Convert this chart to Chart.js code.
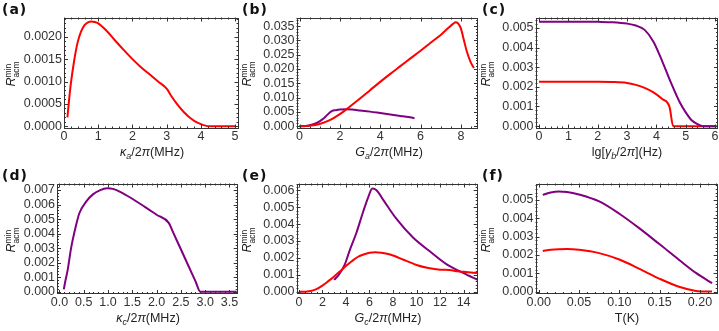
<!DOCTYPE html>
<html>
<head>
<meta charset="utf-8">
<script src="https://cdn.jsdelivr.net/npm/chart.js@4.4.1/dist/chart.umd.min.js"></script>
<style>
  html, body { margin: 0; padding: 0; background: #fff; }
  #wrap { position: relative; width: 719px; height: 331px; overflow: hidden;
          font-family: 'Liberation Sans', Arial, sans-serif; color: #222; }
  #wrap canvas { position: absolute; }
  .tag { position: absolute; font: bold 14px 'DejaVu Sans', sans-serif; letter-spacing: 1px; color: #111; }
  .xt { position: absolute; font-size: 12.5px; white-space: nowrap; transform: translate(-50%, -50%); }
  .yt { position: absolute; font-size: 12.5px; white-space: nowrap; transform: translate(-50%, -50%) rotate(-90deg); }
  .ss { display: inline-block; vertical-align: middle; font-size: 8.5px; line-height: 8px; }
  .ss span { display: block; }
  sub { font-size: 9px; vertical-align: -3px; line-height: 0; }
</style>
</head>
<body>
<div id="wrap">
  <canvas id="ca"></canvas><canvas id="cb"></canvas><canvas id="cc"></canvas>
  <canvas id="cd"></canvas><canvas id="ce"></canvas><canvas id="cf"></canvas>

  <div class="tag" style="left:2px;top:1px">(a)</div>
  <div class="tag" style="left:242px;top:1px">(b)</div>
  <div class="tag" style="left:482px;top:1px">(c)</div>
  <div class="tag" style="left:2px;top:167px">(d)</div>
  <div class="tag" style="left:242px;top:167px">(e)</div>
  <div class="tag" style="left:482px;top:167px">(f)</div>

  <div class="yt" style="left:12px;top:74px"><i>R</i><span class="ss"><span>min</span><span>acm</span></span></div>
  <div class="yt" style="left:248px;top:74px"><i>R</i><span class="ss"><span>min</span><span>acm</span></span></div>
  <div class="yt" style="left:487px;top:74px"><i>R</i><span class="ss"><span>min</span><span>acm</span></span></div>
  <div class="yt" style="left:12px;top:240px"><i>R</i><span class="ss"><span>min</span><span>acm</span></span></div>
  <div class="yt" style="left:248px;top:240px"><i>R</i><span class="ss"><span>min</span><span>acm</span></span></div>
  <div class="yt" style="left:487px;top:240px"><i>R</i><span class="ss"><span>min</span><span>acm</span></span></div>

  <div class="xt" style="left:152px;top:152px"><i>κ</i><sub><i>a</i></sub>/2<i>π</i>(MHz)</div>
  <div class="xt" style="left:389px;top:152px"><i>G</i><sub><i>a</i></sub>/2<i>π</i>(MHz)</div>
  <div class="xt" style="left:627px;top:152px">lg[<i>γ</i><sub><i>b</i></sub>/2<i>π</i>](Hz)</div>
  <div class="xt" style="left:148px;top:318px"><i>κ</i><sub><i>c</i></sub>/2<i>π</i>(MHz)</div>
  <div class="xt" style="left:388px;top:318px"><i>G</i><sub><i>c</i></sub>/2<i>π</i>(MHz)</div>
  <div class="xt" style="left:627px;top:318px">T(K)</div>
</div>

<script>
// ---- data ----
// (a) R vs kappa_a
const aX   = [0.1, 0.15, 0.2, 0.3, 0.4, 0.5, 0.6, 0.7, 0.8, 0.9, 1.0, 1.25, 1.5, 1.75, 2.0, 2.25, 2.5, 2.75, 3.0, 3.15, 3.3, 3.5, 3.7, 3.9, 4.1, 4.3, 4.6, 5.0];
const aRed = [0.0002, 0.0006, 0.00095, 0.00148, 0.00188, 0.00212, 0.00226, 0.00232, 0.00234, 0.00233, 0.0023, 0.00213, 0.00191, 0.0017, 0.0015, 0.00132, 0.00116, 0.001, 0.00084, 0.00066, 0.0005, 0.00032, 0.00018, 0.00008, 0.00002, 0, 0, 0];

// (b) R vs G_a
const bRedX = [0, 0.5, 1, 1.5, 2, 2.5, 3, 3.5, 4, 4.5, 5, 5.5, 6, 6.5, 7, 7.2, 7.4, 7.6, 7.75, 7.9, 8.0, 8.15, 8.3, 8.48, 8.65];
const bRed  = [0, 0.0002, 0.0008, 0.0021, 0.0042, 0.0069, 0.0097, 0.0126, 0.0155, 0.0183, 0.021, 0.0237, 0.0264, 0.0292, 0.0319, 0.0332, 0.0345, 0.0357, 0.0363, 0.0356, 0.0342, 0.0301, 0.026, 0.0225, 0.0203];
const bPurX = [0, 0.3, 0.6, 0.9, 1.1, 1.3, 1.5, 1.6, 1.8, 2.0, 2.3, 2.6, 3.0, 3.5, 4.0, 4.5, 5.0, 5.4, 5.7];
const bPur  = [0, 0.0001, 0.0005, 0.0013, 0.0022, 0.0034, 0.0048, 0.0053, 0.0056, 0.0058, 0.0059, 0.0058, 0.0055, 0.0051, 0.0046, 0.0041, 0.0036, 0.0032, 0.0028];

// (c) R vs lg(gamma_b)
const cPurX = [0, 0.5, 1, 1.5, 2, 2.5, 3, 3.3, 3.6, 3.9, 4.2, 4.5, 4.8, 5.0, 5.2, 5.4, 5.6, 6.05];
const cPur  = [0.00532, 0.00532, 0.00532, 0.00532, 0.00531, 0.00529, 0.00522, 0.00512, 0.0049, 0.0043, 0.0033, 0.0022, 0.0012, 0.0007, 0.0003, 0.0001, 0, 0];
const cRedX = [0, 0.5, 1, 1.5, 2, 2.5, 3, 3.3, 3.6, 3.9, 4.2, 4.45, 4.57, 5.0, 6.05];
const cRed  = [0.00226, 0.00226, 0.00226, 0.00226, 0.00226, 0.00225, 0.0022, 0.0021, 0.00195, 0.00172, 0.00138, 0.00097, 0, 0, 0];

// (d) R vs kappa_c
const dX   = [0.09, 0.12, 0.17, 0.24, 0.33, 0.41, 0.55, 0.69, 0.83, 0.98, 1.1, 1.25, 1.5, 1.75, 2.0, 2.25, 2.35, 2.5, 2.65, 2.8, 2.9, 3.2, 3.65];
const dPur = [0.00016, 0.0007, 0.0015, 0.003, 0.0044, 0.0054, 0.0062, 0.0067, 0.00698, 0.00712, 0.00708, 0.00688, 0.0064, 0.00586, 0.0053, 0.00474, 0.00401, 0.00292, 0.00182, 0.00073, 0, 0, 0];

// (e) R vs G_c
const eRedX = [0, 0.5, 0.9, 1.5, 2, 2.5, 3, 3.5, 4, 4.5, 5, 5.5, 6, 6.5, 7, 7.5, 8, 8.5, 9, 9.5, 10, 11, 12, 12.8, 13.5, 14, 15.2];
const eRed  = [0, 0, 0.00002, 0.00015, 0.00036, 0.00062, 0.0009, 0.0012, 0.00152, 0.0018, 0.00205, 0.0022, 0.0023, 0.00233, 0.0023, 0.00224, 0.00214, 0.002, 0.00186, 0.00172, 0.00158, 0.0014, 0.0013, 0.00128, 0.0012, 0.00117, 0.0011];
const ePurX = [3.0, 3.4, 3.9, 4.3, 4.9, 5.45, 5.9, 6.25, 6.6, 7.2, 8.3, 9.7, 11.1, 12.6, 14, 15.2];
const ePur  = [0.0007, 0.001, 0.0016, 0.0024, 0.0035, 0.0047, 0.0056, 0.0061, 0.006, 0.0054, 0.0043, 0.0032, 0.0024, 0.0016, 0.0011, 0.0007];

// (f) R vs T
const fX   = [0.005, 0.015, 0.025, 0.035, 0.05, 0.075, 0.1, 0.125, 0.15, 0.175, 0.195, 0.215];
const fPur = [0.00528, 0.00541, 0.00546, 0.00544, 0.0053, 0.00492, 0.00425, 0.00345, 0.00258, 0.0017, 0.00102, 0.00046];
const fRed = [0.00222, 0.00228, 0.00231, 0.00232, 0.00228, 0.0021, 0.00175, 0.00124, 0.0007, 0.00025, 0.00004, 0];

// tick labels
const aXTicks = [0, 1, 2, 3, 4, 5];
const aYTicks = [0, 0.0005, 0.001, 0.0015, 0.002];
const bXTicks = [0, 2, 4, 6, 8];
const bYTicks = [0, 0.005, 0.01, 0.015, 0.02, 0.025, 0.03, 0.035];
const cXTicks = [0, 1, 2, 3, 4, 5, 6];
const cYTicks = [0, 0.001, 0.002, 0.003, 0.004, 0.005];
const dXTicks = [0, 0.5, 1, 1.5, 2, 2.5, 3, 3.5];
const dYTicks = [0, 0.001, 0.002, 0.003, 0.004, 0.005, 0.006, 0.007];
const eXTicks = [0, 2, 4, 6, 8, 10, 12, 14];
const eYTicks = [0, 0.001, 0.002, 0.003, 0.004, 0.005, 0.006];
const fXTicks = [0, 0.05, 0.1, 0.15, 0.2];
const fYTicks = [0, 0.001, 0.002, 0.003, 0.004, 0.005];

const RED = '#ff0000';
const PURPLE = '#800080';

// mathematica style frame with ticks on all four sides
function minorList(t, n, min, max) {
  const step = t[1] - t[0];
  const out = [];
  for (let k = -n; k <= (t.length + 1) * n; k++) {
    const v = t[0] + k * step / n;
    if (v >= min && v <= max) out.push({ v, major: k % n === 0 });
  }
  return out;
}

const frame = {
  id: 'frame',
  afterDatasetsDraw(chart, args, opts) {
    const { ctx, chartArea: a } = chart;
    const sx = chart.scales.x, sy = chart.scales.y;
    ctx.save();
    ctx.strokeStyle = '#333';
    ctx.lineWidth = 1;
    ctx.beginPath();
    minorList(opts.xTicks, opts.xMinor, sx.min, sx.max).forEach(t => {
      const p = Math.round(sx.getPixelForValue(t.v)) + 0.5;
      const len = t.major ? 4 : 2;
      ctx.moveTo(p, a.bottom); ctx.lineTo(p, a.bottom - len);
      ctx.moveTo(p, a.top); ctx.lineTo(p, a.top + len);
    });
    minorList(opts.yTicks, opts.yMinor, sy.min, sy.max).forEach(t => {
      const p = Math.round(sy.getPixelForValue(t.v)) + 0.5;
      const len = t.major ? 4 : 2;
      ctx.moveTo(a.left, p); ctx.lineTo(a.left + len, p);
      ctx.moveTo(a.right, p); ctx.lineTo(a.right - len, p);
    });
    ctx.stroke();
    ctx.strokeRect(Math.round(a.left) + 0.5, Math.round(a.top) + 0.5,
                   Math.round(a.right) - Math.round(a.left) - 1, Math.round(a.bottom) - Math.round(a.top) - 1);
    ctx.restore();
  }
};

function panel(id, g, xr, yr, xTicks, yTicks, xDec, yDec, xMinor, yMinor, sets) {
  const cv = document.getElementById(id);
  cv.width = g.w;
  cv.height = g.h;
  cv.style.left = g.x + 'px';
  cv.style.top = g.y + 'px';

  const tickFont = { family: 'Liberation Sans', size: 12.5 };

  new Chart(cv, {
    type: 'line',
    data: {
      datasets: sets.map(s => ({
        data: s.x.map((v, i) => ({ x: v, y: s.y[i] })),
        borderColor: s.c,
        borderWidth: 2,
        pointRadius: 0,
        fill: false,
        cubicInterpolationMode: 'monotone'
      }))
    },
    options: {
      responsive: false,
      animation: false,
      events: [],
      layout: { padding: { left: 0, top: g.T - g.y, right: g.x + g.w - g.R, bottom: 0 } },
      plugins: {
        legend: { display: false },
        tooltip: { enabled: false },
        frame: { xTicks, yTicks, xMinor, yMinor }
      },
      scales: {
        x: {
          type: 'linear', min: xr[0], max: xr[1], bounds: 'data',
          grid: { display: false, drawTicks: false },
          border: { display: false },
          ticks: { autoSkip: false, maxRotation: 0, padding: 1, color: '#333', font: tickFont,
                   callback: v => v.toFixed(xDec) },
          afterBuildTicks: s => { s.ticks = xTicks.map(v => ({ value: v })); },
          afterFit: s => { s.height = g.y + g.h - g.B; s.paddingLeft = 0; s.paddingRight = 0; }
        },
        y: {
          type: 'linear', min: yr[0], max: yr[1], bounds: 'data',
          grid: { display: false, drawTicks: false },
          border: { display: false },
          ticks: { autoSkip: false, padding: 2, color: '#333', font: tickFont,
                   callback: v => v.toFixed(yDec) },
          afterBuildTicks: s => { s.ticks = yTicks.map(v => ({ value: v })); },
          afterFit: s => { s.width = g.L - g.x; s.paddingTop = 0; s.paddingBottom = 0; }
        }
      }
    },
    plugins: [frame]
  });
}

// panel boxes: canvas (x,y,w,h) and plot frame (L,R,T,B) in page pixels
panel('ca', { x: 0, y: 0, w: 240, h: 165, L: 64, R: 238.5, T: 17.5, B: 128.5 },
  [0, 5.1], [-0.00005, 0.00243], aXTicks, aYTicks, 0, 4, 5, 5,
  [{ x: aX, y: aRed, c: RED }]);

panel('cb', { x: 240, y: 0, w: 240, h: 165, L: 296.5, R: 478, T: 17.5, B: 128.5 },
  [-0.15, 8.85], [-0.0008, 0.038], bXTicks, bYTicks, 0, 3, 4, 5,
  [{ x: bRedX, y: bRed, c: RED }, { x: bPurX, y: bPur, c: PURPLE }]);

panel('cc', { x: 480, y: 0, w: 239, h: 165, L: 535.5, R: 718, T: 17.5, B: 128.5 },
  [-0.12, 6.1], [-0.00012, 0.00553], cXTicks, cYTicks, 0, 3, 5, 5,
  [{ x: cPurX, y: cPur, c: PURPLE }, { x: cRedX, y: cRed, c: RED }]);

panel('cd', { x: 0, y: 165, w: 240, h: 166, L: 57, R: 237.7, T: 183.5, B: 294 },
  [-0.05, 3.67], [-0.00016, 0.00745], dXTicks, dYTicks, 1, 3, 5, 5,
  [{ x: dX, y: dPur, c: PURPLE }]);

panel('ce', { x: 240, y: 165, w: 240, h: 166, L: 296.5, R: 477.7, T: 183.5, B: 294 },
  [-0.2, 15.2], [-0.00014, 0.0064], eXTicks, eYTicks, 0, 3, 4, 5,
  [{ x: eRedX, y: eRed, c: RED }, { x: ePurX, y: ePur, c: PURPLE }]);

panel('cf', { x: 480, y: 165, w: 239, h: 166, L: 535.5, R: 717.7, T: 183.5, B: 294 },
  [-0.004, 0.222], [-0.00013, 0.0059], fXTicks, fYTicks, 2, 3, 5, 5,
  [{ x: fX, y: fPur, c: PURPLE }, { x: fX, y: fRed, c: RED }]);
</script>
</body>
</html>
